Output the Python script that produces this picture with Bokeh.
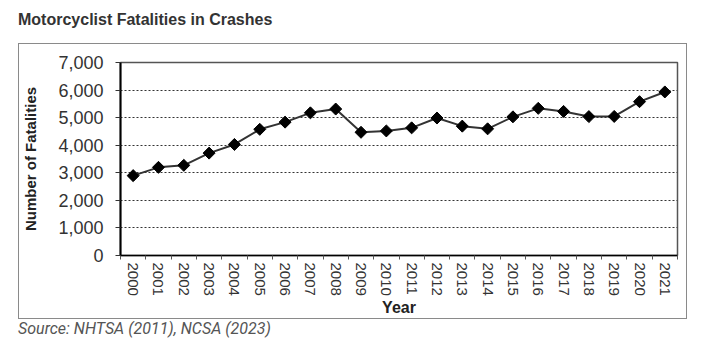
from math import pi
from bokeh.plotting import figure
from bokeh.layouts import column
from bokeh.models import FixedTicker, NumeralTickFormatter, ColumnDataSource, Div
from bokeh.embed import file_html
from bokeh.resources import INLINE

years = ["2000", "2001", "2002", "2003", "2004", "2005", "2006", "2007", "2008", "2009", "2010",
         "2011", "2012", "2013", "2014", "2015", "2016", "2017", "2018", "2019", "2020", "2021"]
fatalities = [2897, 3197, 3270, 3714, 4028, 4576, 4837, 5174, 5312, 4469, 4518,
              4630, 4986, 4692, 4594, 5029, 5337, 5226, 5038, 5044, 5579, 5932]
y_ticks = [0, 1000, 2000, 3000, 4000, 5000, 6000, 7000]
grid_ticks = [1000, 2000, 3000, 4000, 5000, 6000]

title_text = "Motorcyclist Fatalities in Crashes"
source_text = "Source: NHTSA (2011), NCSA (2023)"

idx = list(range(len(years)))
src = ColumnDataSource(dict(x=idx, y=fatalities, year=years))

title_div = Div(
    text=('<div style="position:relative; left:18px; top:11px; white-space:nowrap; '
          'font-family:\'Liberation Sans\'; font-weight:bold; font-size:16px; '
          'line-height:18px; color:#333333;">' + title_text + '</div>'),
    width=706, height=44, margin=(0, 0, 0, 0))

p = figure(width=667, height=274, x_range=(-0.5, len(years) - 0.5), y_range=(0, 7000),
           output_backend="svg", toolbar_location=None,
           min_border_left=99, min_border_right=9, min_border_top=18, min_border_bottom=62,
           margin=(0, 0, 0, 19))
p.styles = {"outline": "1px solid #8a8a8a"}
p.background_fill_color = "white"
p.border_fill_color = "white"
p.outline_line_color = "#555555"
p.outline_line_width = 1.5

p.line("x", "y", source=src, line_color="#333333", line_width=2)
p.scatter("x", "y", source=src, marker="square", angle=pi / 4, size=8.5,
          fill_color="black", line_color="black")

# grid
p.xgrid.visible = False
p.ygrid.ticker = FixedTicker(ticks=grid_ticks)
p.ygrid.grid_line_color = "#333333"
p.ygrid.grid_line_dash = "2 2"
p.ygrid.grid_line_width = 1

# y axis
ya = p.yaxis[0]
ya.ticker = FixedTicker(ticks=y_ticks)
ya.formatter = NumeralTickFormatter(format="0,0")
ya.major_tick_out = 5
ya.major_tick_in = 0
ya.minor_tick_out = 0
ya.minor_tick_in = 0
ya.axis_line_color = "black"
ya.axis_line_width = 2
ya.major_tick_line_color = "#333333"
ya.major_label_text_font = "Liberation Sans"
ya.major_label_text_font_size = "18px"
ya.major_label_text_color = "#333333"
ya.major_label_standoff = 12
ya.axis_label = "Number of Fatalities"
ya.axis_label_text_font = "Liberation Sans"
ya.axis_label_text_font_style = "bold"
ya.axis_label_text_font_size = "15px"
ya.axis_label_text_color = "#222222"
ya.axis_label_standoff = 16

# x axis
xa = p.xaxis[0]
xa.ticker = FixedTicker(ticks=idx, minor_ticks=[i - 0.5 for i in range(len(years) + 1)])
xa.major_label_overrides = {i: years[i] for i in idx}
xa.major_label_orientation = "vertical"
xa.major_tick_out = 0
xa.major_tick_in = 0
xa.minor_tick_out = 4
xa.minor_tick_in = 0
xa.minor_tick_line_color = "#555555"
xa.axis_line_color = "black"
xa.axis_line_width = 1.5
xa.major_label_text_font = "Liberation Sans"
xa.major_label_text_font_size = "15px"
xa.major_label_text_color = "#333333"
xa.major_label_standoff = 3
xa.axis_label = "Year"
xa.axis_label_text_font = "Liberation Sans"
xa.axis_label_text_font_style = "bold"
xa.axis_label_text_font_size = "16px"
xa.axis_label_text_color = "#222222"
xa.axis_label_standoff = 0

source_div = Div(
    text=('<div style="position:relative; left:18px; top:2px; white-space:nowrap; '
          'font-family:Roboto; font-style:italic; font-size:16px; '
          'line-height:18px; color:#555555;">' + source_text + '</div>'),
    width=706, height=34, margin=(0, 0, 0, 0))

layout = column(title_div, p, source_div, spacing=0, margin=(0, 0, 0, 0))

open("out.html", "w").write(file_html(layout, INLINE))
